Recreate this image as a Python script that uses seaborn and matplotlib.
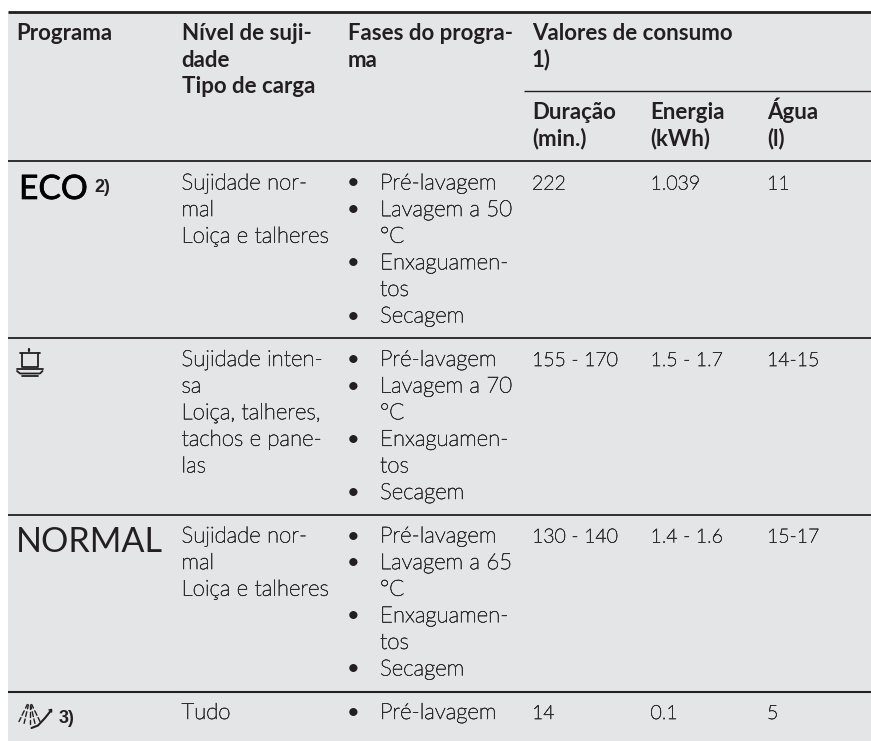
import matplotlib
matplotlib.use("Agg")
import matplotlib.pyplot as plt
import matplotlib.patheffects as pe
from matplotlib.patches import Rectangle
import numpy as np
import seaborn as sns

W, H = 871, 741
INK = "#231f20"
BODY = "#2f2d2e"
BG = "#e4e5e7"
LH = 26.6

sns.set_theme(style="white")
plt.rcParams["font.family"] = ["Lato", "DejaVu Sans"]

header_col1 = ["Programa"]
header_col2 = ["Nível de suji-", "dade", "Tipo de carga"]
header_col3 = ["Fases do progra-", "ma"]
header_col4 = ["Valores de consumo", "1)"]
sub_duration = ["Duração", "(min.)"]
sub_energy = ["Energia", "(kWh)"]
sub_water = ["Água", "(l)"]

soil = [
    ["Sujidade nor-", "mal", "Loiça e talheres"],
    ["Sujidade inten-", "sa", "Loiça, talheres,", "tachos e pane-", "las"],
    ["Sujidade nor-", "mal", "Loiça e talheres"],
    ["Tudo"],
]
phases = [
    [("•", "Pré-lavagem"), ("•", "Lavagem a 50"), ("", "°C"), ("•", "Enxaguamen-"), ("", "tos"), ("•", "Secagem")],
    [("•", "Pré-lavagem"), ("•", "Lavagem a 70"), ("", "°C"), ("•", "Enxaguamen-"), ("", "tos"), ("•", "Secagem")],
    [("•", "Pré-lavagem"), ("•", "Lavagem a 65"), ("", "°C"), ("•", "Enxaguamen-"), ("", "tos"), ("•", "Secagem")],
    [("•", "Pré-lavagem")],
]
duration = ["222", "155 - 170", "130 - 140", "14"]
energy = ["1.039", "1.5 - 1.7", "1.4 - 1.6", "0.1"]
water = ["11", "14-15", "15-17", "5"]

# layout (pixels)
col_x = [16.5, 181.5, 348, 532, 650.5, 767]
bullet_x = 353
phase_x = 380
row_base = [189.5, 366, 542.5, 719]

fig = plt.figure(figsize=(W / 100, H / 100), dpi=100, facecolor="white")
ax = fig.add_axes([0, 0, 1, 1])
ax.set_xlim(0, W)
ax.set_ylim(H, 0)
ax.axis("off")
ax.add_patch(Rectangle((8, 11), W - 8, H - 11, fc=BG, ec="none", zorder=0))


def rule(y, x0=8, lw=1.3):
    ax.plot([x0, W], [y, y], color=INK, lw=lw, solid_capstyle="butt", zorder=2)


rule(11.7, lw=2.0)
rule(90.7, x0=524, lw=1.0)
rule(161, lw=1.3)
rule(338, lw=1.3)
rule(515, lw=1.3)
rule(692, lw=1.5)

THICK = [pe.withStroke(linewidth=0.45, foreground=BODY)]


def put(x, y, s, bold=False, size=None):
    if bold:
        ax.text(x, y, s, color=INK, fontsize=size or 16.0, va="baseline", ha="left",
                fontweight="bold")
    else:
        ax.text(x, y, s, color=BODY, fontsize=size or 16.0, va="baseline", ha="left",
                fontweight="light", path_effects=THICK)


def lines(x, y, items, bold=False):
    for i, s in enumerate(items):
        put(x, y + i * LH, s, bold=bold)


lines(col_x[0], 40, header_col1, bold=True)
lines(col_x[1], 40, header_col2, bold=True)
lines(col_x[2], 40, header_col3, bold=True)
lines(col_x[3], 40, header_col4, bold=True)
lines(col_x[3], 119, sub_duration, bold=True)
lines(col_x[4], 119, sub_energy, bold=True)
lines(col_x[5], 119, sub_water, bold=True)

for r, y in enumerate(row_base):
    lines(col_x[1], y, soil[r])
    for i, (b, t) in enumerate(phases[r]):
        if b:
            ax.text(bullet_x, y + i * LH, b, color=INK, fontsize=15.9, ha="center",
                    va="baseline", fontweight="normal")
        put(phase_x, y + i * LH, t)
    put(col_x[3], y, duration[r], size=14.0)
    put(col_x[4], y, energy[r], size=14.0)
    put(col_x[5], y, water[r], size=14.0)

# programme labels
ax.text(19, 199, "ECO", fontsize=24.2, color="black", va="baseline",
        path_effects=[pe.withStroke(linewidth=0.5, foreground="black")])
ax.text(94, 192, "2)", fontsize=13, color=INK, fontweight="bold", va="baseline",
        family="Liberation Sans")
ax.text(16, 552, "NORMAL", fontsize=24.6, color=INK, va="baseline")
ax.text(59, 723, "3)", fontsize=13, color=INK, fontweight="bold", va="baseline",
        family="Liberation Sans")


# pictogram: pot over plates
def stroke(xs, ys, lw=1.3):
    ax.plot(xs, ys, color=INK, lw=lw, solid_capstyle="round", zorder=3)


stroke([29.3, 29.3], [349, 350.5], lw=1.6)
stroke([20, 40], [352.7, 352.7])
stroke([22, 22, 37.5, 37.5], [352.7, 366.7, 366.7, 352.7])
stroke([17, 42.5], [368.7, 368.7])
stroke([17, 20, 40, 42.5], [371, 373.5, 373.5, 371])
stroke([22, 38], [375.5, 375.5])

# pictogram: spray fan and arm
for offset in [-2, -1, 0, 1, 2]:
    for r0, r1 in [(5, 9), (12, 17), (19.5, 24)]:
        ang = np.deg2rad(offset * 13)
        ox, oy = 29.5, 700
        stroke([ox + r0 * np.sin(ang), ox + r1 * np.sin(ang)],
               [oy + r0 * np.cos(ang), oy + r1 * np.cos(ang)], lw=1.0)
stroke([31.5, 38, 45, 51], [728, 725.5, 718, 710.5], lw=1.5)
stroke([49, 51.5, 51.5], [710, 709.5, 712], lw=1.1)

fig.savefig("out.png", dpi=100, facecolor="white")
